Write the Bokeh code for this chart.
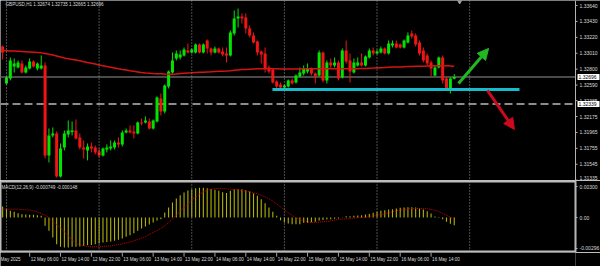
from bokeh.plotting import figure
from bokeh.layouts import column
from bokeh.models import (Range1d, FixedTicker, Span, Label,
                          Arrow, NormalHead, ColumnDataSource)
from bokeh.core.properties import value
from bokeh.embed import file_html
from bokeh.resources import INLINE

# ---------------- data (hour index from 12 May 00:00) ----------------
hours = list(range(-1, 117))

opens = [1.33099, 1.32611, 1.32677, 1.32835, 1.32822, 1.32875, 1.32756, 1.32809, 1.32901, 1.32809,
         1.32809, 1.32849, 1.31662, 1.31925, 1.31952, 1.31385, 1.31767, 1.31939, 1.31971, 1.31991,
         1.31899, 1.31767, 1.31728, 1.31780, 1.31767, 1.31714, 1.31662, 1.31741, 1.31754, 1.31767,
         1.31833, 1.31807, 1.31965, 1.31991, 1.31978, 1.31952, 1.32097, 1.32097, 1.32110, 1.32018,
         1.32110, 1.32413, 1.32242, 1.32572, 1.32756, 1.32941, 1.32954, 1.32981, 1.33047, 1.33020,
         1.33020, 1.33126, 1.33020, 1.33178, 1.33073, 1.33020, 1.33073, 1.33033, 1.33007, 1.32981,
         1.33271, 1.33469, 1.33495, 1.33482, 1.33337, 1.33244, 1.33165, 1.33033, 1.33007, 1.32822,
         1.32796, 1.32638, 1.32598, 1.32559, 1.32572, 1.32651, 1.32624, 1.32704, 1.32743, 1.32770,
         1.32809, 1.32743, 1.32717, 1.33020, 1.32651, 1.32888, 1.32849, 1.32888, 1.32690, 1.33047,
         1.32915, 1.32756, 1.32849, 1.32888, 1.32849, 1.32954, 1.33047, 1.33007, 1.33020, 1.33073,
         1.33007, 1.33112, 1.33139, 1.33126, 1.33086, 1.33152, 1.33271, 1.33244, 1.33152, 1.33047,
         1.32981, 1.32888, 1.32717, 1.32822, 1.32954, 1.32677, 1.32545, 1.32674]
highs = [1.33112, 1.32704, 1.32954, 1.32941, 1.32915, 1.32915, 1.32849, 1.32941, 1.32915, 1.32888,
         1.32981, 1.32888, 1.32018, 1.32031, 1.31978, 1.31820, 1.31991, 1.32123, 1.32110, 1.32136,
         1.31952, 1.31859, 1.31820, 1.31833, 1.31793, 1.31754, 1.31767, 1.31807, 1.31859, 1.31859,
         1.31899, 1.31991, 1.32018, 1.32057, 1.32057, 1.32110, 1.32150, 1.32176, 1.32150, 1.32136,
         1.32440, 1.32479, 1.32598, 1.32783, 1.33020, 1.33047, 1.33047, 1.33086, 1.33139, 1.33073,
         1.33139, 1.33139, 1.33139, 1.33192, 1.33086, 1.33099, 1.33086, 1.33086, 1.33086, 1.33310,
         1.33574, 1.33600, 1.33535, 1.33535, 1.33376, 1.33284, 1.33178, 1.33047, 1.33086, 1.32849,
         1.32809, 1.32651, 1.32624, 1.32598, 1.32664, 1.32677, 1.32730, 1.32822, 1.32849, 1.32875,
         1.32822, 1.32756, 1.33047, 1.33033, 1.32915, 1.32941, 1.32954, 1.32915, 1.33073, 1.33178,
         1.33007, 1.32941, 1.32954, 1.33007, 1.32981, 1.33073, 1.33086, 1.33060, 1.33099, 1.33086,
         1.33178, 1.33178, 1.33178, 1.33139, 1.33192, 1.33284, 1.33310, 1.33271, 1.33178, 1.33086,
         1.33007, 1.32915, 1.32849, 1.32967, 1.32981, 1.32690, 1.32690, 1.32735]
lows = [1.32928, 1.32598, 1.32651, 1.32756, 1.32809, 1.32743, 1.32743, 1.32796, 1.32822, 1.32783,
        1.32796, 1.31622, 1.31569, 1.31899, 1.31371, 1.31371, 1.31728, 1.31899, 1.31925, 1.31873,
        1.31741, 1.31622, 1.31596, 1.31701, 1.31675, 1.31635, 1.31648, 1.31701, 1.31728, 1.31741,
        1.31767, 1.31780, 1.31952, 1.31952, 1.31886, 1.31939, 1.32057, 1.32084, 1.32004, 1.32004,
        1.32097, 1.32189, 1.32216, 1.32545, 1.32743, 1.32915, 1.32928, 1.32967, 1.33007, 1.33007,
        1.33007, 1.33007, 1.33007, 1.33007, 1.32981, 1.33007, 1.33007, 1.32967, 1.32888, 1.32967,
        1.33244, 1.33350, 1.33403, 1.33271, 1.33218, 1.33139, 1.32981, 1.32875, 1.32756, 1.32743,
        1.32611, 1.32545, 1.32545, 1.32545, 1.32559, 1.32598, 1.32611, 1.32690, 1.32717, 1.32743,
        1.32717, 1.32611, 1.32704, 1.32624, 1.32611, 1.32809, 1.32822, 1.32651, 1.32677, 1.32875,
        1.32624, 1.32743, 1.32835, 1.32835, 1.32835, 1.32941, 1.32981, 1.32994, 1.33007, 1.32994,
        1.32994, 1.33086, 1.33073, 1.33073, 1.33073, 1.33139, 1.33205, 1.33099, 1.32981, 1.32888,
        1.32849, 1.32704, 1.32704, 1.32809, 1.32611, 1.32519, 1.32479, 1.32665]
closes = [1.33020, 1.32690, 1.32915, 1.32875, 1.32888, 1.32756, 1.32822, 1.32901, 1.32835, 1.32875,
          1.32849, 1.31662, 1.31925, 1.31952, 1.31385, 1.31754, 1.31952, 1.31991, 1.31991, 1.31886,
          1.31767, 1.31741, 1.31780, 1.31754, 1.31701, 1.31662, 1.31754, 1.31767, 1.31780, 1.31833,
          1.31807, 1.31965, 1.31991, 1.31965, 1.31952, 1.32097, 1.32084, 1.32123, 1.32018, 1.32123,
          1.32427, 1.32242, 1.32585, 1.32770, 1.32915, 1.33007, 1.32994, 1.33060, 1.33020, 1.33060,
          1.33126, 1.33020, 1.33126, 1.33073, 1.33020, 1.33073, 1.33020, 1.32994, 1.32981, 1.33284,
          1.33469, 1.33495, 1.33469, 1.33337, 1.33244, 1.33152, 1.33020, 1.32994, 1.32809, 1.32770,
          1.32624, 1.32572, 1.32559, 1.32585, 1.32651, 1.32611, 1.32717, 1.32756, 1.32809, 1.32809,
          1.32743, 1.32704, 1.33020, 1.32651, 1.32888, 1.32849, 1.32888, 1.32677, 1.33047, 1.32901,
          1.32770, 1.32888, 1.32888, 1.32849, 1.32967, 1.33047, 1.33007, 1.33033, 1.33073, 1.33007,
          1.33139, 1.33139, 1.33086, 1.33086, 1.33178, 1.33244, 1.33231, 1.33126, 1.33007, 1.32915,
          1.32875, 1.32809, 1.32822, 1.32954, 1.32651, 1.32545, 1.32677, 1.32696]
moving_avg = [1.33047, 1.33044, 1.33041, 1.33039, 1.33036, 1.33033, 1.33031, 1.33028, 1.33024, 1.33020,
              1.33015, 1.33007, 1.32996, 1.32986, 1.32974, 1.32961, 1.32948, 1.32936, 1.32928, 1.32920,
              1.32911, 1.32899, 1.32888, 1.32878, 1.32867, 1.32855, 1.32845, 1.32834, 1.32825, 1.32816,
              1.32805, 1.32796, 1.32788, 1.32779, 1.32772, 1.32764, 1.32756, 1.32751, 1.32747, 1.32743,
              1.32741, 1.32738, 1.32735, 1.32733, 1.32733, 1.32737, 1.32742, 1.32746, 1.32750, 1.32752,
              1.32755, 1.32758, 1.32760, 1.32763, 1.32765, 1.32768, 1.32771, 1.32773, 1.32776, 1.32780,
              1.32785, 1.32790, 1.32794, 1.32797, 1.32800, 1.32803, 1.32804, 1.32805, 1.32805, 1.32805,
              1.32805, 1.32804, 1.32803, 1.32803, 1.32801, 1.32801, 1.32801, 1.32803, 1.32804, 1.32805,
              1.32805, 1.32804, 1.32805, 1.32805, 1.32805, 1.32804, 1.32804, 1.32803, 1.32804, 1.32805,
              1.32805, 1.32805, 1.32806, 1.32808, 1.32809, 1.32812, 1.32814, 1.32817, 1.32820, 1.32822,
              1.32825, 1.32828, 1.32829, 1.32830, 1.32832, 1.32834, 1.32835, 1.32837, 1.32838, 1.32839,
              1.32842, 1.32844, 1.32845, 1.32846, 1.32846, 1.32844, 1.32841, 1.32838]
macd_hist = [0.00106, 0.00081, 0.00065, 0.00055, 0.00042, 0.00032, 0.00029, 0.00026, 0.00026, 0.00023,
             0.00016, -0.00081, -0.00129, -0.00194, -0.00258, -0.00284, -0.00290, -0.00290, -0.00284, -0.00284,
             -0.00281, -0.00274, -0.00268, -0.00265, -0.00258, -0.00252, -0.00242, -0.00236, -0.00232, -0.00226,
             -0.00216, -0.00203, -0.00187, -0.00171, -0.00152, -0.00129, -0.00106, -0.00087, -0.00068, -0.00048,
             -0.00029, -0.00016, 0.00048, 0.00097, 0.00145, 0.00184, 0.00216, 0.00242, 0.00261, 0.00274,
             0.00284, 0.00287, 0.00287, 0.00284, 0.00277, 0.00268, 0.00258, 0.00245, 0.00236, 0.00258,
             0.00274, 0.00274, 0.00274, 0.00265, 0.00252, 0.00232, 0.00210, 0.00177, 0.00139, 0.00097,
             0.00055, 0.00016, -0.00026, -0.00048, -0.00058, -0.00065, -0.00065, -0.00065, -0.00050, -0.00050,
             -0.00045, -0.00040, -0.00030, -0.00023, -0.00020, -0.00016, -0.00013, -0.00010, 0.00002, 0.00013,
             0.00013, 0.00016, 0.00019, 0.00023, 0.00029, 0.00035, 0.00045, 0.00055, 0.00065, 0.00071,
             0.00077, 0.00081, 0.00087, 0.00094, 0.00097, 0.00100, 0.00100, 0.00097, 0.00090, 0.00077,
             0.00061, 0.00039, 0.00010, 0.00006, -0.00016, -0.00042, -0.00061, -0.000749]
macd_signal = [0.00077, 0.00081, 0.00081, 0.00081, 0.00081, 0.00077, 0.00074, 0.00071, 0.00065, 0.00055,
               0.00039, 0.00023, -0.00003, -0.00039, -0.00071, -0.00097, -0.00139, -0.00177, -0.00216, -0.00248,
               -0.00268, -0.00274, -0.00281, -0.00284, -0.00284, -0.00284, -0.00281, -0.00277, -0.00274, -0.00268,
               -0.00261, -0.00255, -0.00245, -0.00236, -0.00226, -0.00213, -0.00200, -0.00184, -0.00165, -0.00145,
               -0.00126, -0.00106, -0.00081, -0.00048, -0.00016, 0.00023, 0.00061, 0.00100, 0.00132, 0.00171,
               0.00200, 0.00226, 0.00248, 0.00265, 0.00274, 0.00281, 0.00281, 0.00281, 0.00277, 0.00274,
               0.00271, 0.00268, 0.00261, 0.00255, 0.00248, 0.00239, 0.00229, 0.00216, 0.00200, 0.00181,
               0.00158, 0.00132, 0.00103, 0.00074, 0.00045, 0.00019, -0.00003, -0.00019, -0.00029, -0.00042,
               -0.00048, -0.00048, -0.00045, -0.00042, -0.00039, -0.00032, -0.00026, -0.00019, -0.00016, -0.00013,
               -0.00010, -0.00006, -0.00003, 0.00000, 0.00003, 0.00010, 0.00016, 0.00023, 0.00029, 0.00035,
               0.00045, 0.00055, 0.00065, 0.00071, 0.00077, 0.00084, 0.00087, 0.00087, 0.00087, 0.00087,
               0.00084, 0.00077, 0.00070, 0.00058, 0.00040, 0.00020, 0.00003, -0.000148]

price_ticks = [1.33640, 1.33430, 1.33220, 1.33010, 1.32800, 1.32590,
               1.32385, 1.32175, 1.31965, 1.31755, 1.31545, 1.31335]
macd_ticks = [0.00300, 0.0, -0.00296]
macd_tick_labels = ["0.00300", "0.00", "-0.00296"]
time_tick_hours = [6, 14, 22, 30, 38, 46, 54, 62, 70, 78, 86, 94, 102, 110]
time_tick_labels = ["12 May 06:00", "12 May 14:00", "12 May 22:00", "13 May 06:00",
                    "13 May 14:00", "13 May 22:00", "14 May 06:00", "14 May 14:00",
                    "14 May 22:00", "15 May 06:00", "15 May 14:00", "15 May 22:00",
                    "16 May 06:00", "16 May 14:00"]
first_time_label = "May 2025"
day_starts = [0, 24, 48, 72, 96, 120]

bid_price = 1.32696
level_price = 1.32339
tag_prices = [bid_price, level_price]
tag_texts = ["1.32696", "1.32339"]
support_price = 1.32532
support_from, support_to = 68.9, 132.9
up_arrow = dict(x_start=117.1, y_start=1.32611, x_end=124.9, y_end=1.33073)
down_arrow = dict(x_start=124.6, y_start=1.32519, x_end=131.6, y_end=1.32004)
shift_marker_x = 117.4

header_text = "GBPUSD,H1  1.32674 1.32735 1.32665 1.32696"
macd_text = "MACD(12,26,9) -0.000749 -0.000148"

# ---------------- styling / geometry ----------------
FONT = "Liberation Sans"
BG = "#000000"
AXIS_C = "#b4b4b4"
TXT_C = "#dcdcdc"
BULL = "#00e400"
BEAR = "#f01414"
FS = "5px"
FS_SMALL = "4.6px"

PX_PER_BAR = 3.86
X_START = -1.55
CHART_W = 575
chart_x_end = X_START + CHART_W / PX_PER_BAR          # right edge of the chart area
x_range = Range1d(X_START, chart_x_end)               # MACD + time strip
x_range_full = Range1d(X_START, X_START + 600 / PX_PER_BAR)  # price panel incl. its scale


def make_fig(h, y_range, xr, fw=CHART_W, top=0, bottom=0, right=25, right_axis=True):
    p = figure(frame_width=fw, frame_height=h, x_range=xr, y_range=y_range,
               output_backend="svg", toolbar_location=None,
               x_axis_location=None, y_axis_location=("right" if right_axis else None),
               background_fill_color=BG, border_fill_color=BG,
               min_border_left=0, min_border_right=right, min_border_top=top,
               min_border_bottom=bottom, outline_line_color=None)
    p.grid.visible = False
    if right_axis:
        ax = p.yaxis[0]
        ax.axis_line_color = AXIS_C
        ax.axis_line_width = 1
        ax.major_tick_line_color = AXIS_C
        ax.major_tick_out = 2
        ax.major_tick_in = 0
        ax.minor_tick_line_color = None
        ax.major_label_standoff = 2
        ax.major_label_text_font = FONT
        ax.major_label_text_font_size = FS
        ax.major_label_text_color = TXT_C
    return p


# ---------------- price panel (its price scale drawn in the same frame) ----------------
p1 = make_fig(180, Range1d(1.31331, 1.33706), x_range_full, fw=600, right=0, right_axis=False)

for d in day_starts:
    p1.add_layout(Span(location=d, dimension="height", line_color="#9a9a9a",
                       line_dash="1 2", line_width=1))
# bid line and horizontal dashed level (end at the price scale)
p1.segment(x0=[X_START], y0=[bid_price], x1=[chart_x_end], y1=[bid_price],
           line_color="#4a4a4a", line_width=2)
p1.segment(x0=[X_START], y0=[level_price], x1=[chart_x_end], y1=[level_price],
           line_color="#8c8c8c", line_width=2, line_dash="8 4")

colors = [BULL if c >= o else BEAR for o, c in zip(opens, closes)]
src = ColumnDataSource(dict(x=hours, o=opens, h=highs, l=lows, c=closes,
                            top=[max(o, c) for o, c in zip(opens, closes)],
                            bot=[min(o, c) for o, c in zip(opens, closes)],
                            color=colors))
p1.segment(x0="x", y0="l", x1="x", y1="h", line_color="color", line_width=1, source=src)
p1.vbar(x="x", top="top", bottom="bot", width=0.78, fill_color="color",
        line_color=None, source=src)
p1.line(hours, moving_avg, line_color="#d41414", line_width=1.5)

p1.segment(x0=[support_from], y0=[support_price], x1=[support_to], y1=[support_price],
           line_color="#14bccc", line_width=3)

GREEN_ARROW = "#22b822"
RED_ARROW = "#cc0a1e"
p1.add_layout(Arrow(end=NormalHead(size=11, fill_color=GREEN_ARROW, line_color=GREEN_ARROW),
                    line_color=GREEN_ARROW, line_width=3, **up_arrow))
p1.add_layout(Arrow(end=NormalHead(size=11, fill_color=RED_ARROW, line_color=RED_ARROW),
                    line_color=RED_ARROW, line_width=3, **down_arrow))

p1.scatter(x=[shift_marker_x], y=[1.33706], marker="inverted_triangle", size=6,
           fill_color="#a0a0a0", line_color="#a0a0a0")

# price scale: axis line, ticks, labels
p1.add_layout(Span(location=chart_x_end, dimension="height", line_color=AXIS_C, line_width=1))
n = len(price_ticks)
p1.segment(x0=[chart_x_end] * n, y0=price_ticks, x1=[chart_x_end + 2 / PX_PER_BAR] * n,
           y1=price_ticks, line_color=AXIS_C, line_width=1)
p1.text(x=[chart_x_end] * (n - 1), y=price_ticks[:-1],
        text=[f"{t:.5f}" for t in price_ticks[:-1]],
        x_offset=4, text_font=value(FONT), text_font_size=FS, text_color=TXT_C,
        text_align="left", text_baseline="middle")
# lowest label sits on the panel's bottom edge: keep it inside
p1.text(x=[chart_x_end], y=price_ticks[-1:], text=[f"{price_ticks[-1]:.5f}"],
        x_offset=4, text_font=value(FONT), text_font_size=FS, text_color=TXT_C,
        text_align="left", text_baseline="bottom")
# white price tags
p1.rect(x=[chart_x_end + 13 / PX_PER_BAR] * 2, y=tag_prices, width=22, height=6,
        width_units="screen", height_units="screen", fill_color="white", line_color=None)
p1.text(x=[chart_x_end] * 2, y=tag_prices, text=tag_texts, x_offset=3,
        text_font=value(FONT), text_font_size=FS, text_color="black",
        text_align="left", text_baseline="middle")

p1.add_layout(Label(x=5, y=176, x_units="screen", y_units="screen", text=header_text,
                    text_font=FONT, text_font_size=FS_SMALL, text_color=TXT_C,
                    text_baseline="middle"))

# ---------------- MACD panel ----------------
p2 = make_fig(70, Range1d(-0.003291, 0.003485), x_range, top=1, bottom=1)
p2.outline_line_color = "#bdbdbd"
p2.outline_line_width = 2
p2.yaxis[0].ticker = FixedTicker(ticks=macd_ticks)
p2.yaxis[0].major_label_overrides = {t: s for t, s in zip(macd_ticks, macd_tick_labels)}
for d in day_starts:
    p2.add_layout(Span(location=d, dimension="height", line_color="#9a9a9a",
                       line_dash="1 2", line_width=1))
p2.vbar(x=hours, top=macd_hist, bottom=0, width=0.28, fill_color="#b4b400", line_color=None)
p2.line(hours, macd_signal, line_color="#c80000", line_width=1, line_dash="1 1")
p2.add_layout(Label(x=1, y=64, x_units="screen", y_units="screen", text=macd_text,
                    text_font=FONT, text_font_size=FS_SMALL, text_color=TXT_C,
                    text_baseline="middle"))

# ---------------- time strip ----------------
p3 = make_fig(14, Range1d(0, 1), x_range, right_axis=False)
p3.segment(x0=time_tick_hours, y0=[1.0] * len(time_tick_hours),
           x1=time_tick_hours, y1=[0.7] * len(time_tick_hours),
           line_color="#a0a0a0", line_width=1)
p3.text(x=time_tick_hours, y=[0.5] * len(time_tick_hours), text=time_tick_labels,
        text_font=value(FONT), text_font_size=FS_SMALL, text_color=TXT_C,
        text_align="left", text_baseline="middle", x_offset=1)
p3.text(x=[X_START], y=[0.5], text=[first_time_label],
        text_font=value(FONT), text_font_size=FS_SMALL, text_color=TXT_C,
        text_align="left", text_baseline="middle")

layout = column(p1, p2, p3, spacing=0)
open("out.html", "w").write(file_html(layout, INLINE))
